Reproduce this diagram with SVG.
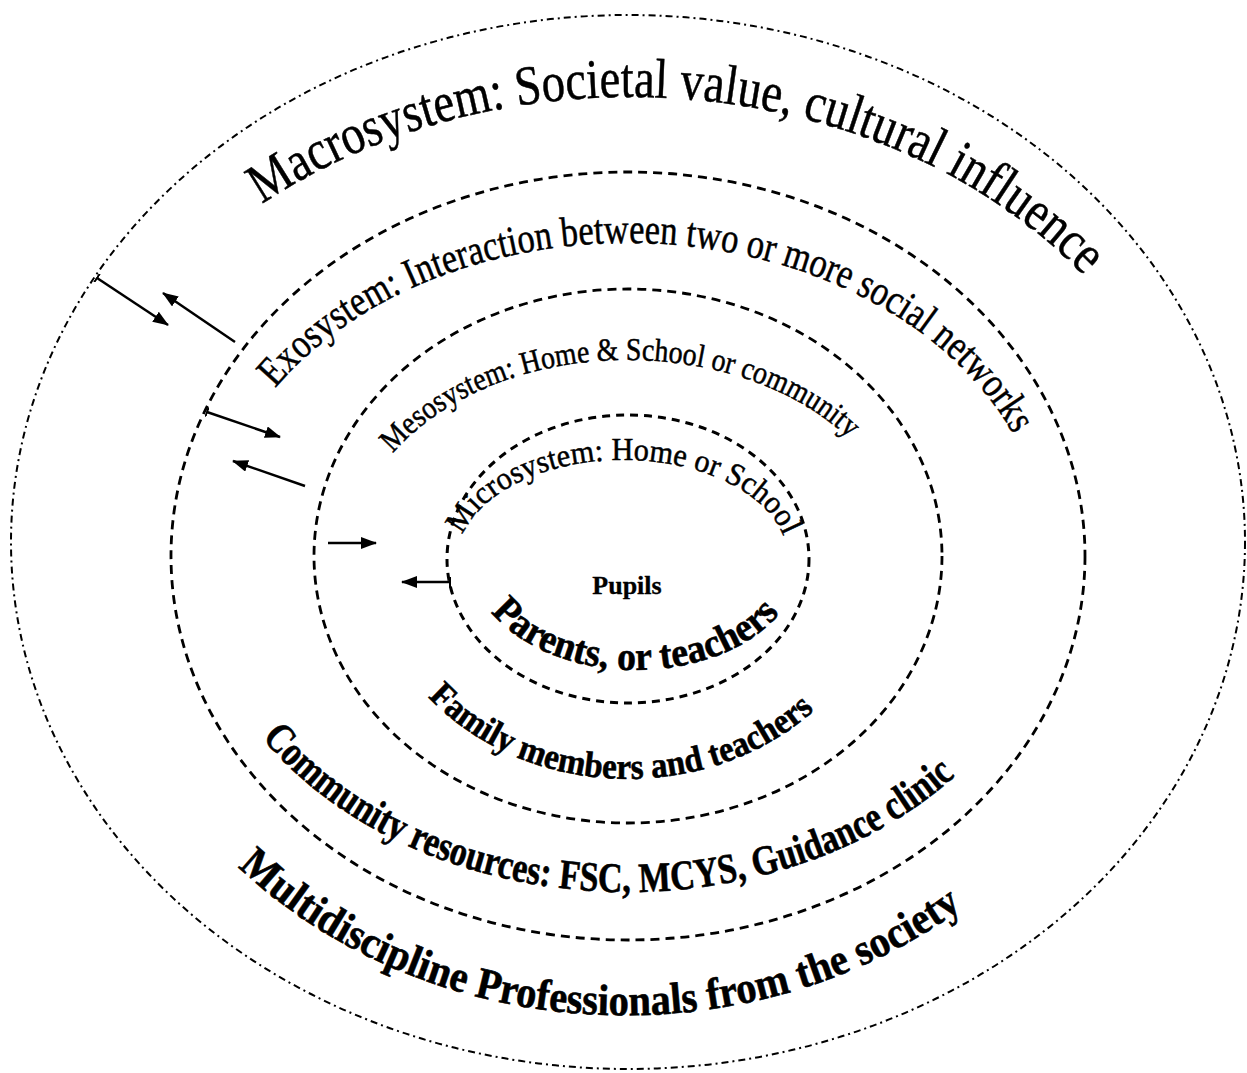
<svg xmlns="http://www.w3.org/2000/svg" width="1247" height="1073" viewBox="0 0 1247 1073">
<defs>
<style>
.ring{fill:none;stroke:#000}
.macro{stroke-width:2;stroke-dasharray:7 4 2 4}
.dash{stroke-width:2.8;stroke-dasharray:9 6}
.lbl{font-family:"Liberation Serif","Times New Roman",serif;fill:#000}
.up{font-weight:normal;stroke:#000;stroke-width:0.5}
.low{font-weight:bold;stroke:#000;stroke-width:0.6}
.conn{stroke:#000;stroke-width:2.5;fill:none}
</style>
<marker id="head" viewBox="0 0 16 12" refX="15" refY="6" markerWidth="16" markerHeight="12" markerUnits="userSpaceOnUse" orient="auto"><path d="M0,0 L16,6 L0,12 z" fill="#000"/></marker>
<marker id="tick" viewBox="0 0 2 10" refX="1" refY="5" markerWidth="2" markerHeight="10" markerUnits="userSpaceOnUse" orient="auto"><path d="M1,0 V10" stroke="#000" stroke-width="2"/></marker>
<path id="p-macro" d="M261.9,204.3 A575,463 0 0 1 1089.8,282.0"/>
<path id="p-exo" d="M275.1,388.3 A418,313 0 0 1 1015.0,437.7"/>
<path id="p-meso" d="M392.9,453.3 A276,196 0 0 1 852.0,441.5"/>
<path id="p-micro" d="M462.9,535.1 A165,99 0 0 1 785.0,540.2"/>
<path id="p-parents" d="M491.0,612.0 A165,111 0 0 0 782.6,609.9"/>
<path id="p-family" d="M428.1,696.9 A258,223 0 0 0 817.9,706.9"/>
<path id="p-community" d="M261.9,737.6 A434,336 0 0 0 965.1,766.8"/>
<path id="p-multi" d="M238,867 A533,475 0 0 0 968,904"/>
</defs>
<rect width="1247" height="1073" fill="#fff"/>

<g id="node-macro">
<ellipse class="ring macro" cx="628" cy="542" rx="617" ry="527"/>
<text class="lbl up" font-size="56"><textPath href="#p-macro" textLength="890" lengthAdjust="spacingAndGlyphs">Macrosystem: Societal value, cultural influence</textPath></text>
<text class="lbl low" font-size="44"><textPath href="#p-multi" textLength="784" lengthAdjust="spacingAndGlyphs">Multidiscipline Professionals from the society</textPath></text>
</g>

<g id="node-exo">
<ellipse class="ring dash" cx="628" cy="556" rx="457" ry="384"/>
<text class="lbl up" font-size="42"><textPath href="#p-exo" textLength="843" lengthAdjust="spacingAndGlyphs">Exosystem: Interaction between two or more social networks</textPath></text>
<text class="lbl low" font-size="42"><textPath href="#p-community" textLength="765" lengthAdjust="spacingAndGlyphs">Community resources: FSC, MCYS, Guidance clinic</textPath></text>
</g>

<g id="node-meso">
<ellipse class="ring dash" cx="628" cy="556" rx="314" ry="267"/>
<text class="lbl up" font-size="32"><textPath href="#p-meso" textLength="500" lengthAdjust="spacingAndGlyphs">Mesosystem: Home &amp; School or community</textPath></text>
<text class="lbl low" font-size="36"><textPath href="#p-family" textLength="425" lengthAdjust="spacingAndGlyphs">Family members and teachers</textPath></text>
</g>

<g id="node-micro">
<ellipse class="ring dash" cx="628" cy="559" rx="181" ry="144" style="stroke-width:3;stroke-dasharray:8 6"/>
<text class="lbl up" font-size="32"><textPath href="#p-micro" textLength="373" lengthAdjust="spacingAndGlyphs">Microsystem: Home or School</textPath></text>
<text class="lbl low" font-size="40"><textPath href="#p-parents" textLength="320" lengthAdjust="spacingAndGlyphs">Parents, or teachers</textPath></text>
</g>

<g id="node-pupils">
<text class="lbl low" font-size="26" x="627" y="594" text-anchor="middle" style="stroke-width:0.3">Pupils</text>
</g>

<g id="connectors">
<line class="conn" x1="97" y1="278" x2="168" y2="325" marker-start="url(#tick)" marker-end="url(#head)"/>
<line class="conn" x1="235" y1="342" x2="163" y2="293" marker-end="url(#head)"/>
<line class="conn" x1="207" y1="412" x2="280" y2="437" marker-start="url(#tick)" marker-end="url(#head)"/>
<line class="conn" x1="305" y1="486" x2="233" y2="461" marker-end="url(#head)"/>
<line class="conn" x1="328" y1="543" x2="376" y2="543" marker-end="url(#head)"/>
<line class="conn" x1="450" y1="582" x2="402" y2="582" marker-start="url(#tick)" marker-end="url(#head)"/>
</g>
</svg>
